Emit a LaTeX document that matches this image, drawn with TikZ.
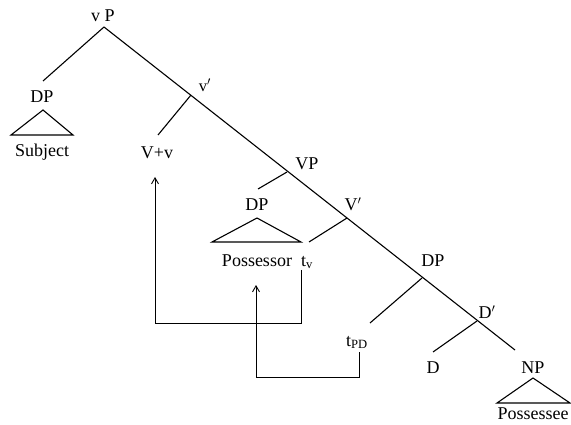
\documentclass[tikz,border=0pt]{standalone}
\usepackage{fontspec}
\setmainfont{Liberation Serif}
\usetikzlibrary{arrows.meta}
\begin{document}
\begin{tikzpicture}[x=1pt,y=-1pt,
  lab/.style={anchor=base,inner sep=0pt,font=\fontsize{18}{20}\selectfont},
  small/.style={anchor=base,inner sep=0pt,font=\fontsize{16.5}{18}\selectfont},
  branch/.style={line width=1.1pt},
  tri/.style={line width=1.1pt,line join=miter},
  move/.style={line width=0.9pt,-{Straight Barb[length=6pt,width=7pt]}}]
\useasboundingbox (0,0) rectangle (571,425);
% labels
\node[lab] (vP) at (103,22) {v P};
\node[lab] (DPa) at (42,103) {DP};
\node[lab] (Subj) at (42,157) {Subject};
\node[small] (vbar) at (205,92) {v$'$};
\node[lab] (Vv) at (157,159) {V+v};
\node[lab] (VP) at (307,170) {VP};
\node[lab] (DPb) at (257,211) {DP};
\node[lab] (Poss) at (257,266) {Possessor};
\node[lab] (tv) at (307,266) {t\textsubscript{v}};
\node[lab] (Vbar) at (353,211) {V$'$};
\node[lab] (DPc) at (433,266) {DP};
\node[lab] (tPD) at (357,346) {t\textsubscript{PD}};
\node[lab] (Dbar) at (487,319) {D$'$};
\node[lab] (D) at (433,373) {D};
\node[lab] (NP) at (533,373) {NP};
\node[lab] (Pssee) at (533,419) {Possessee};
% tree points
\coordinate (root) at (104,27);
\coordinate (mainend) at (515,350);
\coordinate (jv) at (191,95);
\coordinate (jVP) at (287,172);
\coordinate (jVbar) at (347,218);
\coordinate (jDP) at (422,278);
\coordinate (jDbar) at (477,321);
\coordinate (eDPa) at (43,81);
\coordinate (eVv) at (158,135);
\coordinate (eDPb) at (258,189);
\coordinate (etv) at (309,242);
\coordinate (etPD) at (370,323);
\coordinate (eD) at (433,352);
% branches
\draw[branch] (root) -- (mainend);
\draw[branch] (root) -- (eDPa);
\draw[branch] (jv) -- (eVv);
\draw[branch] (jVP) -- (eDPb);
\draw[branch] (jVbar) -- (etv);
\draw[branch] (jDP) -- (etPD);
\draw[branch] (jDbar) -- (eD);
% triangles
\draw[tri] (43,110) -- (11,135) -- (73,135) -- cycle;
\draw[tri] (257,218) -- (212,242) -- (301,242) -- cycle;
\draw[tri] (533,378) -- (497,403) -- (570,403) -- cycle;
% movement arrows
\coordinate (m1s) at (301,270);
\coordinate (m1e) at (155,177);
\coordinate (m2s) at (359,352);
\coordinate (m2e) at (256,285);
\draw[move] (m1s) -- (301,323) -- (155,323) -- (m1e);
\draw[move] (m2s) -- (359,377) -- (256,377) -- (m2e);
\end{tikzpicture}
\end{document}
